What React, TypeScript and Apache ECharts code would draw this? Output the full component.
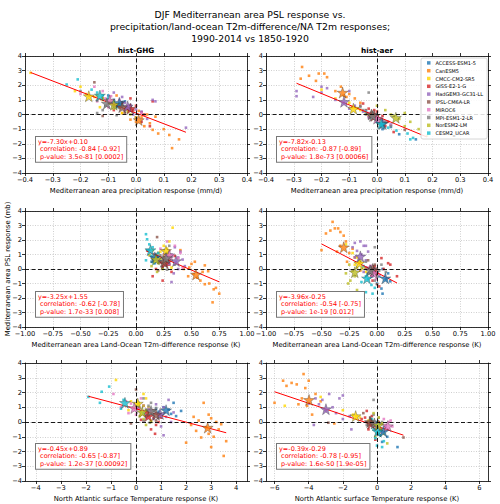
import React, { useEffect, useRef } from "react";
import * as echarts from "echarts";

const MODELS = [
  "ACCESS-ESM1-5",
  "CanESM5",
  "CMCC-CM2-SR5",
  "GISS-E2-1-G",
  "HadGEM3-GC31-LL",
  "IPSL-CM6A-LR",
  "MIROC6",
  "MPI-ESM1-2-LR",
  "NorESM2-LM",
  "CESM2_UCAR",
];
const COLORS = [
  "#1f77b4", "#ff7f0e", "#ffd700", "#d62728", "#9467bd",
  "#8c564b", "#e377c2", "#7f7f7f", "#bcbd22", "#17becf",
];

// ---- hist-GHG ensemble members (one inner array per model, MODELS order) ----
const GHG_PSL = [
  [1.3, 1.0, 0.85, 0.7, 0.55, 0.4, 0.5, 0.9, 0.75],
  [-2.3, -1.7, -1.4, -1.3, -1.05, -1.0, -0.8, -0.6, -0.5, -0.35, -0.2, 0.0, 0.1, 0.25, 0.35, 0.5, 1.3, -0.15],
  [2.85, 1.9, 1.6, 1.4, 1.2, 1.0, 0.8, 0.5, 0.1],
  [1.1, 0.8, 0.6, 0.45, 0.3, 0.15, 0.0, -0.2, -0.5, -0.8, 0.9, 0.3],
  [1.5, 1.2, 1.0, 0.8, 0.65, 0.5, 0.35, 0.2, 0.0, -0.3, -0.9, 0.9],
  [2.2, 0.1, -0.1, 0.5, 0.8, 0.6],
  [1.9, 1.6, 1.4, 1.25, 1.1, 1.0, 0.9, 0.75, 0.6, 0.5, 0.3, 0.1],
  [1.6, 1.3, 1.1, 0.95, 0.85, 0.75, 0.6, 0.45, 0.3, 0.1, -0.05],
  [1.3, 1.1, 0.95, 0.8, 0.7, 0.55, 0.4, 0.2, 0.0, -0.2],
  [2.4, 2.05, 1.7, 1.5, 1.3, 1.1, 0.9, 0.6, 0.4],
];
const GHG_PR = [
  [-0.1, -0.08, -0.05, -0.06, -0.03, -0.02, -0.07, -0.04, -0.05],
  [0.13, 0.155, 0.12, 0.08, 0.06, 0.1, 0.03, 0.05, 0.0, -0.02, 0.02, 0.04, -0.05, 0.01, -0.03, -0.06, -0.07, 0.07],
  [-0.38, -0.2, -0.22, -0.18, -0.15, -0.12, -0.1, -0.13, -0.05],
  [-0.02, -0.05, 0.0, -0.03, -0.01, 0.02, 0.03, 0.0, 0.02, 0.05, 0.06, -0.08],
  [-0.08, -0.05, 0.06, -0.04, -0.02, -0.03, 0.0, 0.02, -0.01, 0.04, 0.18, 0.07],
  [-0.15, -0.04, -0.12, -0.02, -0.06, -0.08],
  [-0.15, -0.12, -0.2, -0.09, -0.11, -0.06, -0.14, -0.08, -0.03, -0.1, -0.04, 0.02],
  [-0.2, -0.17, -0.12, -0.14, -0.1, -0.08, -0.11, -0.06, -0.12, -0.14, -0.07],
  [-0.14, -0.12, -0.09, -0.1, -0.07, -0.05, -0.08, -0.03, -0.02, 0.0],
  [-0.21, -0.25, -0.16, -0.14, -0.12, -0.1, -0.08, -0.05, -0.02],
];
const GHG_LO = [
  [0.12, 0.18, 0.2, 0.15, 0.22, 0.17, 0.14, 0.19, 0.24],
  [0.69, 0.75, 0.7, 0.72, 0.62, 0.66, 0.58, 0.55, 0.47, 0.52, 0.6, 0.43, 0.48, 0.62, 0.5, 0.53, 0.4, 0.65],
  [0.33, 0.3, 0.25, 0.28, 0.22, 0.3, 0.26, 0.2, 0.32],
  [0.2, 0.26, 0.3, 0.22, 0.28, 0.24, 0.18, 0.32, 0.15, 0.24, 0.35, 0.3],
  [0.35, 0.4, 0.32, 0.38, 0.42, 0.36, 0.3, 0.44, 0.38, 0.34, 0.32, 0.28],
  [0.19, 0.24, 0.2, 0.28, 0.3, 0.25],
  [0.28, 0.35, 0.22, 0.3, 0.4, 0.25, 0.33, 0.38, 0.2, 0.3, 0.27, 0.42],
  [0.3, 0.25, 0.28, 0.22, 0.32, 0.26, 0.3, 0.2, 0.35, 0.24, 0.28],
  [0.15, 0.2, 0.12, 0.18, 0.22, 0.16, 0.2, 0.14, 0.24, 0.19],
  [0.09, 0.1, 0.12, 0.15, 0.1, 0.2, 0.14, 0.09, 0.16],
];
const GHG_NA = [
  [1.5, 1.1, 1.3, 0.9, 1.4, 1.6, 1.0, 0.8, 1.8],
  [3.5, 3.0, 2.0, 3.6, 2.6, 3.1, 2.9, 2.4, 3.3, 2.8, 2.2, 3.2, 2.5, 3.0, 2.3, 2.9, 2.7, 3.4],
  [-0.8, 0.3, 0.4, -0.2, 0.1, 0.5, -0.3, 0.2, 0.6],
  [0.3, 0.6, 0.4, 0.5, 0.7, 0.2, 0.9, 0.8, 0.6, 0.76, 0.1, 1.0],
  [1.3, 0.8, 1.1, 0.6, 1.5, 0.9, 1.2, 0.7, 1.4, 1.0, 1.1, 0.5],
  [0.0, 0.8, -0.2, 1.0, 0.7, 0.6],
  [-0.9, 0.2, -0.4, -0.2, 0.3, -0.6, 0.1, 0.5, -0.3, 0.0, 0.4, 0.3],
  [0.3, 0.6, 0.5, 0.8, 0.4, 0.7, 0.6, 0.45, 0.9, 0.3, 0.55],
  [0.1, 0.3, -0.1, 0.4, 0.2, 0.5, 0.15, 0.3, 0.6, 0.4],
  [-1.07, -1.37, -1.9, -0.5, -1.44, 0.1, -0.6, 0.3, 0.4],
];
// hist-GHG model ensemble means
const GHG_MEAN_PSL = [0.8, -0.38, 1.25, 0.4, 0.55, 0.5, 0.95, 0.75, 0.67, 1.3];
const GHG_MEAN_PR = [-0.06, 0.01, -0.17, -0.02, -0.03, -0.05, -0.095, -0.105, -0.08, -0.13];
const GHG_MEAN_LO = [0.17, 0.54, 0.27, 0.26, 0.36, 0.25, 0.3, 0.27, 0.18, 0.13];
const GHG_MEAN_NA = [1.2, 2.86, 0.07, 0.49, 0.96, 0.8, -0.07, 0.6, 0.25, -0.44];

// ---- hist-aer ensemble members ----
const AER_PSL = [
  [0.0, -0.3, -0.5, -0.7, -0.85, -1.0, -1.35, -1.7],
  [3.25, 2.8, 2.8, 2.65, 2.55, 2.45, 2.3, 1.9, 1.6, 1.4, 1.3, 1.1, 0.8, 0.5, 1.2, -0.1],
  [1.7, 1.1, 0.8, 0.5, 0.3, 0.1, -0.2, 0.4],
  [0.75, 0.4, 0.2, 0.0, -0.1, -0.3, -0.5, -0.8, -1.2, 0.3],
  [1.9, 1.8, 1.6, 1.6, 1.5, 1.25, 1.2, 1.0, 0.8, 0.6, 0.4, 0.2, -0.2, -0.5],
  [0.6, 0.3, 0.0, -0.05, -1.05, 0.1],
  [0.2, 0.0, -0.2, -0.3, -0.5, -0.7, 0.1, -0.4],
  [1.5, 0.5, 0.3, 0.1, -0.1, -0.3, -0.5, -0.2, 0.0, -0.8],
  [0.6, 0.3, 0.1, -0.1, -0.3, -0.5, -0.8, -1.0, -1.45, 0.0],
  [0.2, -0.2, -0.5, -0.7, -0.9, -1.1, -1.3, -1.6, -1.7],
];
const AER_PR = [
  [-0.02, 0.0, 0.03, 0.05, 0.05, 0.02, 0.08, 0.14],
  [-0.27, -0.21, -0.19, -0.245, -0.18, -0.275, -0.22, -0.13, -0.15, -0.1, -0.12, -0.08, -0.06, -0.09, -0.11, -0.03],
  [-0.2, -0.15, -0.1, -0.08, -0.06, -0.04, 0.0, -0.07],
  [-0.05, -0.03, 0.0, -0.02, 0.02, 0.01, 0.04, 0.03, 0.06, -0.01],
  [-0.2, -0.18, -0.29, -0.1, -0.2, -0.29, -0.23, -0.15, -0.12, -0.08, -0.1, -0.05, -0.03, 0.0],
  [-0.06, -0.04, -0.01, 0.0, 0.1, -0.02],
  [-0.04, -0.02, 0.0, 0.01, 0.03, 0.05, -0.03, 0.02],
  [-0.03, -0.06, -0.05, -0.02, 0.0, 0.01, 0.03, -0.01, -0.04, 0.05],
  [0.0, 0.03, 0.1, 0.06, 0.08, 0.12, 0.1, 0.15, 0.18, 0.05],
  [-0.04, -0.02, 0.0, 0.02, 0.04, 0.07, 0.11, 0.13, 0.12],
];
const AER_LO = [
  [0.05, 0.1, 0.02, 0.08, 0.12, 0.0, 0.04, 0.05],
  [-0.4, -0.38, -0.35, -0.42, -0.33, -0.46, -0.3, -0.28, -0.33, -0.22, -0.5, -0.25, -0.2, -0.27, -0.36, -0.15],
  [-0.28, -0.22, -0.18, -0.15, -0.2, -0.12, -0.1, -0.16],
  [0.04, 0.1, -0.02, 0.06, -0.06, 0.0, 0.18, -0.04, 0.02, 0.12],
  [-0.15, -0.2, -0.1, -0.12, -0.22, -0.18, -0.08, -0.14, -0.2, -0.1, -0.16, -0.06, -0.12, -0.04],
  [-0.08, -0.02, -0.06, -0.04, 0.0, -0.1],
  [-0.06, -0.02, -0.04, 0.0, -0.05, -0.01, -0.08, 0.02],
  [-0.02, -0.1, 0.04, -0.06, 0.02, -0.08, 0.0, 0.08, -0.04, -0.02],
  [-0.16, -0.25, -0.18, -0.22, -0.28, -0.2, -0.24, -0.26, -0.18, -0.14],
  [-0.12, -0.06, -0.1, -0.08, -0.14, -0.05, -0.02, -0.1, -0.04],
];
const AER_NA = [
  [0.0, 0.5, 0.2, 0.4, 0.1, 0.6, 0.3, 1.2],
  [-4.3, -5.5, -4.0, -5.0, -4.7, -5.3, -4.2, -3.6, -4.4, -3.3, -6.0, -4.1, -3.0, -3.8, -4.6, -2.5],
  [-3.3, -5.4, -2.0, -1.4, -1.0, -0.5, -0.2, -1.2],
  [-0.6, -0.3, -0.9, 0.1, -0.4, -0.2, -0.5, 0.0, -0.1, -0.7],
  [-2.8, -2.0, -3.6, -2.2, -3.2, -4.0, -3.4, -2.6, -3.0, -2.4, -1.6, -2.0, -3.7, -1.5],
  [-0.8, -0.4, -0.6, -2.85, 1.55, -0.3],
  [0.4, 0.7, 0.5, 0.9, 0.6, 0.3, 0.8, 0.5],
  [-0.2, -0.2, 0.1, -0.4, 0.2, 0.0, -0.1, -0.6, 0.3, 0.1],
  [-0.2, 0.1, -0.4, 0.3, 0.0, 0.2, 0.4, -0.1, 0.6, -0.3],
  [-0.3, 0.1, -0.2, 0.0, 0.2, -0.1, 0.4, 0.0, 0.3],
];
// hist-aer model ensemble means
const AER_MEAN_PSL = [-0.64, 1.5, 0.4, -0.1, 0.87, 0.0, -0.28, -0.1, -0.22, -0.64];
const AER_MEAN_PR = [0.02, -0.124, -0.085, -0.01, -0.119, -0.02, 0.0, -0.015, 0.068, 0.015];
const AER_MEAN_LO = [0.075, -0.3, -0.16, -0.03, -0.15, -0.04, -0.03, -0.06, -0.2, -0.09];
const AER_MEAN_NA = [0.37, -3.98, -1.25, -0.35, -2.99, -0.41, 0.63, -0.15, 0.08, 0.04];

// ---- regression statistics per predictor (precip, land-ocean, NA) ----
const GHG_SLOPE = [-7.3, -3.25, -0.45];
const GHG_INTERCEPT = [0.1, 1.55, 0.89];
const GHG_CORR = ["-0.84 [-0.92]", "-0.62 [-0.78]", "-0.65 [-0.87]"];
const GHG_PVAL = ["3.5e-81 [0.0002]", "1.7e-33 [0.008]", "1.2e-37 [0.00092]"];
const AER_SLOPE = [-7.82, -3.96, -0.39];
const AER_INTERCEPT = [-0.13, -0.25, -0.29];
const AER_CORR = ["-0.87 [-0.89]", "-0.54 [-0.75]", "-0.78 [-0.95]"];
const AER_PVAL = ["1.8e-73 [0.00066]", "1e-19 [0.012]", "1.6e-50 [1.9e-05]"];

// ---- axes ----
const EXPERIMENTS = ["hist-GHG", "hist-aer"];
const X_NAMES = [
  "Mediterranean area precipitation response (mm/d)",
  "Mediterranean area Land-Ocean T2m-difference response (K)",
  "North Atlantic surface Temperature response (K)",
];
const Y_NAME = "Mediterranean area PSL response (mb)";
const X_TICKS_PR = [-0.4, -0.3, -0.2, -0.1, 0, 0.1, 0.2, 0.3, 0.4];
const X_TICKS_LO = [-1, -0.75, -0.5, -0.25, 0, 0.25, 0.5, 0.75, 1];
const X_TICKS_NA_GHG = [-4, -3, -2, -1, 0, 1, 2, 3, 4];
const X_TICKS_NA_AER = [-6, -4, -2, 0, 2, 4, 6];
const X_DECIMALS = [1, 2, 0];
const GHG_XLIM = [[-0.4, 0.4], [-1, 1], [-4.43, 4.43]];
const AER_XLIM = [[-0.4, 0.4], [-1, 1], [-6.5, 6.5]];
const Y_LIM = [-4, 4];
const TITLE =
  "DJF Mediterranean area PSL response vs.\nprecipitation/land-ocean T2m-difference/NA T2m responses;\n1990-2014 vs 1850-1920";

const FONT = "DejaVu Sans";
const STAR =
  "path://M50 0L61.23 34.55L97.55 34.55L68.17 55.9L79.39 90.45L50 69.1L20.61 90.45L31.83 55.9L2.45 34.55L38.77 34.55Z";
const GRID_LEFT = [25, 266];
const GRID_TOP = [56, 211, 363];
const GRID_H = [117, 116, 118];
const GRID_W = 222;

const fmt = (dec: number) => (v: number) => {
  const a = Math.abs(v) < 1e-9 ? 0 : v;
  const s = Math.abs(a).toFixed(dec);
  return a < 0 ? "\u2212" + s : s;
};

function buildOption() {
  const grid: any[] = [];
  const xAxis: any[] = [];
  const yAxis: any[] = [];
  const series: any[] = [];
  const graphic: any[] = [];

  const exps = [
    {
      psl: GHG_PSL, x: [GHG_PR, GHG_LO, GHG_NA],
      mpsl: GHG_MEAN_PSL, mx: [GHG_MEAN_PR, GHG_MEAN_LO, GHG_MEAN_NA],
      slope: GHG_SLOPE, icpt: GHG_INTERCEPT, corr: GHG_CORR, pval: GHG_PVAL,
      xlim: GHG_XLIM, ticks: [X_TICKS_PR, X_TICKS_LO, X_TICKS_NA_GHG],
    },
    {
      psl: AER_PSL, x: [AER_PR, AER_LO, AER_NA],
      mpsl: AER_MEAN_PSL, mx: [AER_MEAN_PR, AER_MEAN_LO, AER_MEAN_NA],
      slope: AER_SLOPE, icpt: AER_INTERCEPT, corr: AER_CORR, pval: AER_PVAL,
      xlim: AER_XLIM, ticks: [X_TICKS_PR, X_TICKS_LO, X_TICKS_NA_AER],
    },
  ];

  const axisLine = { onZero: false, lineStyle: { color: "#000", width: 0.8 } };
  const tickStyle = { color: "#000", width: 0.8 };
  const split = { show: true, lineStyle: { color: "#b0b0b0", width: 0.6, type: [1, 1.5] } };

  for (let p = 0; p < 3; p++) {
    for (let e = 0; e < 2; e++) {
      const ex = exps[e];
      const gi = p * 2 + e;
      const left = GRID_LEFT[e];
      const top = GRID_TOP[p];
      grid.push({ left, top, width: GRID_W, height: GRID_H[p] });
      const ticks = ex.ticks[p];
      const [xmin, xmax] = ex.xlim[p];
      // bottom + top x axes
      xAxis.push({
        gridIndex: gi, type: "value", position: "bottom", min: xmin, max: xmax,
        axisLine,
        axisTick: { customValues: ticks, length: 3, lineStyle: tickStyle },
        axisLabel: { customValues: ticks, formatter: fmt(X_DECIMALS[p]), fontSize: 6.7, color: "#000", margin: 3, fontFamily: FONT },
        splitLine: split,
        name: X_NAMES[p], nameLocation: "middle", nameGap: 14,
        nameTextStyle: { fontSize: 6.8, color: "#000", fontFamily: FONT },
      });
      xAxis.push({
        gridIndex: gi, type: "value", position: "top", min: xmin, max: xmax,
        axisLine,
        axisTick: { customValues: ticks, length: 3, lineStyle: tickStyle },
        axisLabel: { show: false },
        splitLine: { show: false },
      });
      yAxis.push({
        gridIndex: gi, type: "value", position: "left", min: Y_LIM[0], max: Y_LIM[1], interval: 1,
        axisLine,
        axisTick: { length: 3, lineStyle: tickStyle },
        axisLabel: { formatter: fmt(0), fontSize: 6.7, color: "#000", margin: 3, fontFamily: FONT },
        splitLine: split,
      });
      yAxis.push({
        gridIndex: gi, type: "value", position: "right", min: Y_LIM[0], max: Y_LIM[1], interval: 1,
        axisLine,
        axisTick: { length: 3, lineStyle: tickStyle },
        axisLabel: { show: false },
        splitLine: { show: false },
      });
      const xi = gi * 2;
      const yi = gi * 2;

      // dashed zero lines
      series.push({
        type: "line", xAxisIndex: xi, yAxisIndex: yi, data: [], silent: true, z: 1,
        markLine: {
          silent: true, symbol: ["none", "none"], label: { show: false },
          lineStyle: { color: "#000", type: [4, 2.5], width: 0.9 },
          data: [{ xAxis: 0 }, { yAxis: 0 }],
        },
      });

      // ensemble members
      let lo = Infinity;
      let hi = -Infinity;
      for (let m = 0; m < MODELS.length; m++) {
        const xs = ex.x[p][m];
        const ys = ex.psl[m];
        xs.forEach((v) => { lo = Math.min(lo, v); hi = Math.max(hi, v); });
        series.push({
          type: "scatter", name: MODELS[m], xAxisIndex: xi, yAxisIndex: yi,
          symbol: "rect", symbolSize: 2.6, z: 2,
          itemStyle: { color: COLORS[m] },
          data: xs.map((v, k) => [v, ys[k]]),
        });
      }

      // regression line over the members' range
      const a = ex.slope[p];
      const b = ex.icpt[p];
      series.push({
        type: "line", xAxisIndex: xi, yAxisIndex: yi, z: 3, silent: true,
        showSymbol: false, symbol: "none",
        lineStyle: { color: "#ff0000", width: 1 },
        data: [[lo, a * lo + b], [hi, a * hi + b]],
      });

      // model means
      for (let m = 0; m < MODELS.length; m++) {
        series.push({
          type: "scatter", name: MODELS[m] + " mean", xAxisIndex: xi, yAxisIndex: yi,
          symbol: STAR, symbolSize: 11, z: 4,
          itemStyle: { color: COLORS[m], borderColor: "rgba(40,40,40,0.8)", borderWidth: 0.5 },
          data: [[ex.mx[p][m], ex.mpsl[m]]],
        });
      }

      // statistics box
      const eq = `y=${a.toFixed(2)}x${b < 0 ? "-" : "+"}${Math.abs(b).toFixed(2)}`;
      graphic.push({
        type: "text", x: left + 11, y: top + 81, z: 100,
        style: {
          text: `${eq}\n correlation: ${ex.corr[p]}\n p-value: ${ex.pval[p]}`,
          fill: "#ff0000", fontSize: 6.5, fontFamily: FONT, lineHeight: 7.6,
          backgroundColor: "#fff", borderColor: "#777", borderWidth: 1,
          padding: [1, 3, 1, 2],
        },
      });
    }
  }

  // column headers and shared y label
  for (let e = 0; e < 2; e++) {
    graphic.push({
      type: "text", x: GRID_LEFT[e] + GRID_W / 2, y: 50, z: 100,
      style: {
        text: EXPERIMENTS[e], fontSize: 7.3, fontWeight: "bold", fontFamily: FONT,
        fill: "#000", align: "center", verticalAlign: "middle",
      },
    });
  }
  graphic.push({
    type: "text", x: 8, y: 269, rotation: Math.PI / 2, z: 100,
    style: {
      text: Y_NAME, fontSize: 6.9, fontFamily: FONT, fill: "#000",
      align: "center", verticalAlign: "middle",
    },
  });

  return {
    animation: false,
    backgroundColor: "#fff",
    title: {
      text: TITLE, left: "center", top: 3,
      textStyle: { fontSize: 9.3, fontWeight: "normal", lineHeight: 12, fontFamily: FONT, color: "#000" },
    },
    legend: {
      data: MODELS, orient: "vertical", left: 421, top: 58,
      icon: "rect", itemWidth: 3.5, itemHeight: 3.5, itemGap: 0,
      padding: [1, 4, 2, 6],
      backgroundColor: "rgba(255,255,255,0.85)", borderColor: "#ccc", borderWidth: 0.8, borderRadius: 2,
      textStyle: { fontSize: 5, lineHeight: 7.8, color: "#000", fontFamily: FONT },
      z: 50,
    },
    grid, xAxis, yAxis, series, graphic,
  };
}

export default function App() {
  const ref = useRef<HTMLDivElement>(null);
  useEffect(() => {
    document.body.style.margin = "0";
    const chart = echarts.init(ref.current!, null, { renderer: "svg" });
    chart.setOption(buildOption() as any);
    return () => chart.dispose();
  }, []);
  return <div ref={ref} style={{ width: 500, height: 504 }} />;
}
